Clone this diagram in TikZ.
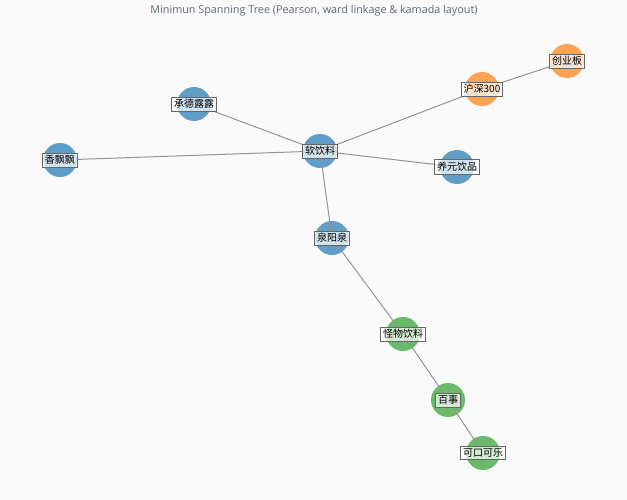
\documentclass[tikz,border=0pt]{standalone}
\usepackage{fontspec}
\setmainfont{Open Sans}
\newfontfamily\cjk{Noto Sans CJK SC}
\definecolor{tabblue}{HTML}{1F77B4}
\definecolor{taborange}{HTML}{FF7F0E}
\definecolor{tabgreen}{HTML}{2CA02C}
\definecolor{bgpaper}{HTML}{FAFAFA}
\definecolor{titlegray}{HTML}{5F6873}
\tikzset{
	dot/.style={circle,minimum size=34pt,inner sep=0pt,fill opacity=0.7},
	bluedot/.style={dot,fill=tabblue},
	orangedot/.style={dot,fill=taborange},
	greendot/.style={dot,fill=tabgreen},
	tag/.style={draw=black!60,line width=0.9pt,fill=white,fill opacity=0.7,text opacity=1,inner xsep=2.2pt,inner ysep=2.4pt,font=\cjk\fontsize{10}{11}\selectfont},
	link/.style={draw=black!42,line width=1pt}
}
\begin{document}
\begin{tikzpicture}[x=1pt,y=-1pt]
		\fill[bgpaper] (0,0) rectangle (627,500);
		\useasboundingbox (0,0) rectangle (627,500);
		\node[titlegray,font=\fontsize{10.8}{12}\selectfont] (title) at (314,11) {Minimun Spanning Tree (Pearson, ward linkage \& kamada layout)};
		% nodes
		\node[bluedot] (ryl) at (320,151) {};
		\node[bluedot] (cdll) at (194,104) {};
		\node[bluedot] (xpp) at (60,160) {};
		\node[bluedot] (yyyp) at (457,167) {};
		\node[bluedot] (qyq) at (332,238) {};
		\node[orangedot] (hs) at (482,89) {};
		\node[orangedot] (cyb) at (567,61) {};
		\node[greendot] (gwyl) at (403,334) {};
		\node[greendot] (bs) at (448,400) {};
		\node[greendot] (kkkl) at (483,453) {};
		% tree edges
		\draw[link] (ryl.center) -- (cdll.center);
		\draw[link] (ryl.center) -- (xpp.center);
		\draw[link] (ryl.center) -- (yyyp.center);
		\draw[link] (ryl.center) -- (hs.center);
		\draw[link] (hs.center) -- (cyb.center);
		\draw[link] (ryl.center) -- (qyq.center);
		\draw[link] (qyq.center) -- (gwyl.center);
		\draw[link] (gwyl.center) -- (bs.center);
		\draw[link] (bs.center) -- (kkkl.center);
		% labels
		\node[tag] at (ryl) {软饮料};
		\node[tag] at (cdll) {承德露露};
		\node[tag] at (xpp) {香飘飘};
		\node[tag] at (yyyp) {养元饮品};
		\node[tag] at (qyq) {泉阳泉};
		\node[tag] at (hs) {沪深300};
		\node[tag] at (cyb) {创业板};
		\node[tag] at (gwyl) {怪物饮料};
		\node[tag] at (bs) {百事};
		\node[tag] at (kkkl) {可口可乐};
\end{tikzpicture}
\end{document}
